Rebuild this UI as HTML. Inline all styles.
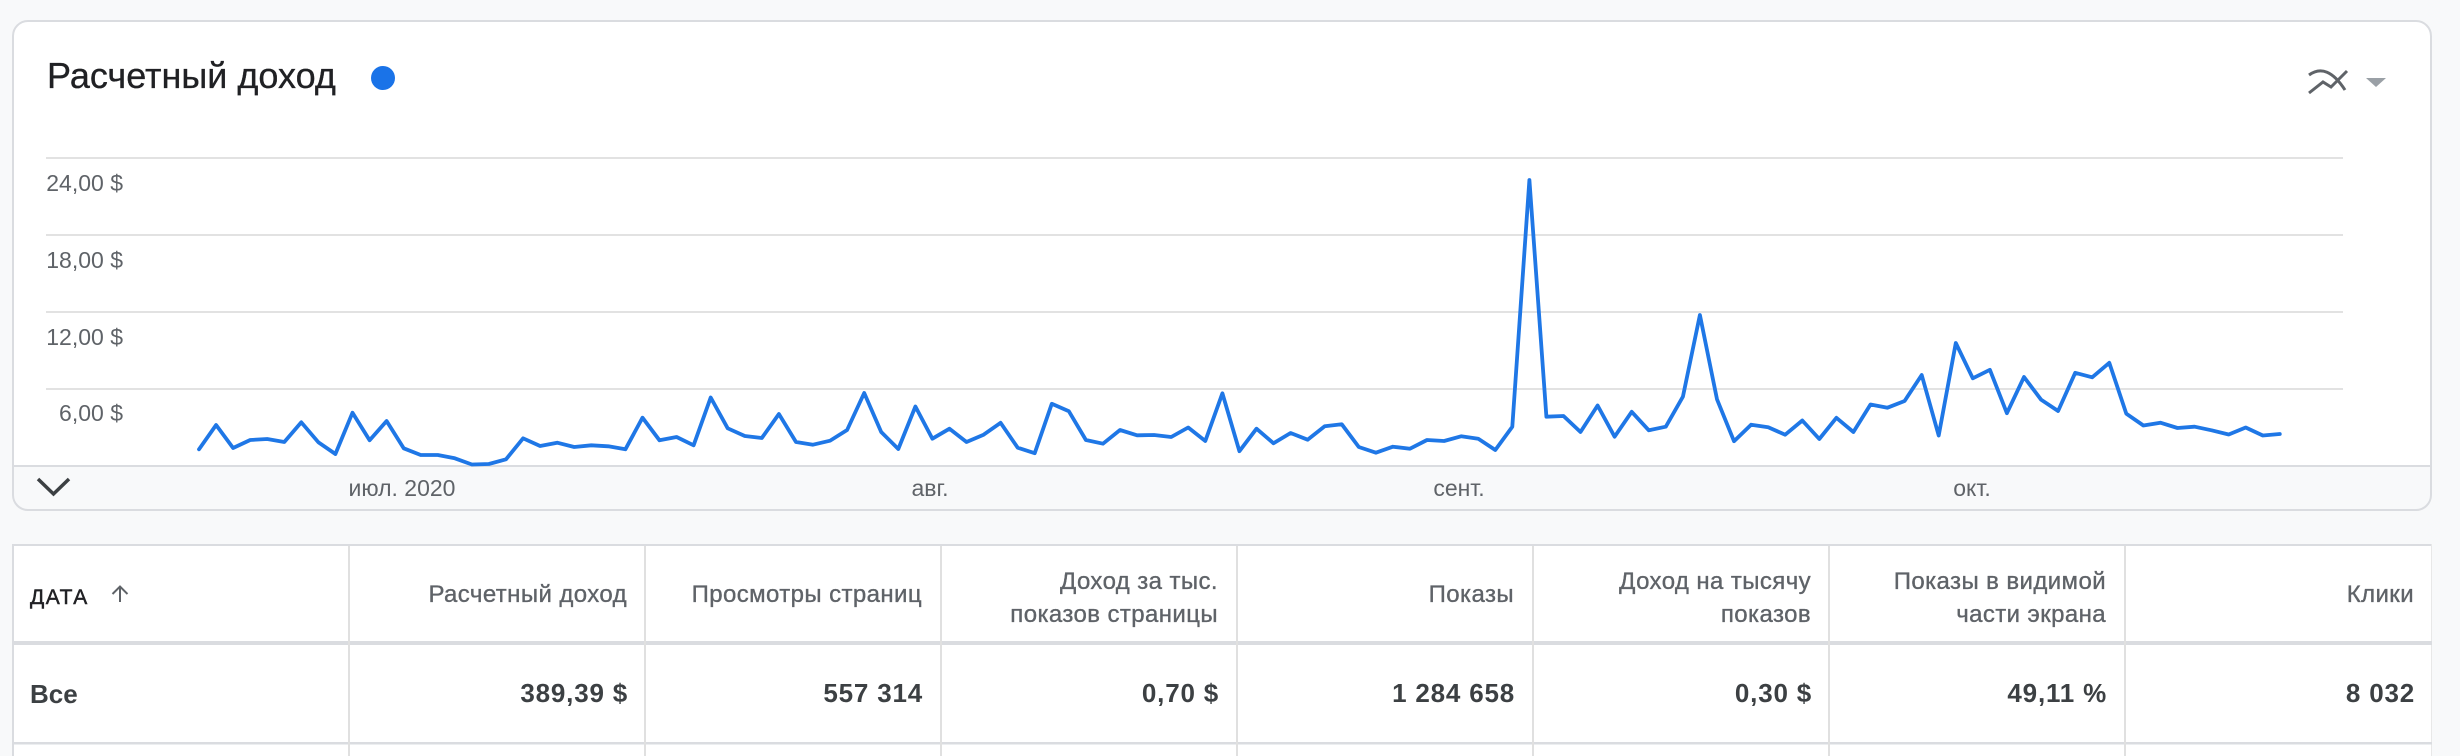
<!DOCTYPE html>
<html><head><meta charset="utf-8"><style>
html,body{margin:0;padding:0;background:#f8f9fa;}
body{width:2460px;height:756px;overflow:hidden;position:relative;font-family:"Liberation Sans","Noto Sans CJK SC",sans-serif;}
svg{position:absolute;left:0;top:0;}
</style></head><body>
<svg width="2460" height="756" viewBox="0 0 2460 756" xmlns="http://www.w3.org/2000/svg" font-family="Liberation Sans, Noto Sans CJK SC, sans-serif">
<defs><clipPath id="card"><rect x="13" y="21" width="2418" height="489" rx="15"/></clipPath></defs>
<rect x="0" y="0" width="2460" height="756" fill="#f8f9fa"/>
<!-- card -->
<g clip-path="url(#card)">
<rect x="13" y="21" width="2418" height="489" fill="#ffffff"/>
<rect x="13" y="466" width="2418" height="44" fill="#f8f9fa"/>
<rect x="13" y="465" width="2418" height="2" fill="#dadce0"/>
</g>
<rect x="13" y="21" width="2418" height="489" rx="15" fill="none" stroke="#dadce0" stroke-width="2"/>
<!-- title -->
<text x="47" y="88" font-size="36" fill="#202124" stroke="#202124" stroke-width="0.3">Расчетный доход</text>
<circle cx="383" cy="78" r="12" fill="#1a73e8"/>
<!-- top right icon -->
<g fill="none" stroke="#5f6368" stroke-width="3" stroke-linecap="butt" stroke-linejoin="miter">
<path d="M2309 75 Q2327 62 2345 90"/>
<polyline points="2309,93 2323,82 2331,87 2347,71"/>
</g>
<polygon points="2366,78 2386,78 2376,87" fill="#9aa0a6"/>
<!-- gridlines -->
<g fill="#e2e2e2">
<rect x="46" y="157" width="2297" height="2"/>
<rect x="46" y="234" width="2297" height="2"/>
<rect x="46" y="311" width="2297" height="2"/>
<rect x="46" y="388" width="2297" height="2"/>
</g>
<g font-size="23" fill="#5f6368" text-anchor="end">
<text x="123" y="191">24,00 $</text>
<text x="123" y="268">18,00 $</text>
<text x="123" y="345">12,00 $</text>
<text x="123" y="421">6,00 $</text>
</g>
<!-- series -->
<polyline fill="none" stroke="#1f77e6" stroke-width="3.8" stroke-linejoin="round" stroke-linecap="round" points="199.0,449.3 216.1,425 233.1,448 250.2,440 267.2,439 284.3,442 301.3,422.3 318.4,442.3 335.4,454 352.5,412.7 369.6,440.3 386.6,421 403.7,448.3 420.7,455 437.8,455 454.8,458.3 471.9,464.5 488.9,464 506.0,459.3 523.1,438.3 540.1,446 557.2,442.7 574.2,447 591.3,445.3 608.3,446.3 625.4,449.3 642.5,417.7 659.5,440.3 676.6,437 693.6,445.3 710.7,397.5 727.7,428.3 744.8,436 761.8,438 778.9,414 796.0,442 813.0,444.7 830.1,440.7 847.1,430 864.2,393 881.2,432 898.3,449 915.4,406.5 932.4,438.7 949.5,428.7 966.5,442 983.6,434.7 1000.6,422.8 1017.7,447.7 1034.7,453.2 1051.8,403.8 1068.9,411.3 1085.9,440 1103.0,443.7 1120.0,430 1137.1,435.3 1154.1,435 1171.2,437 1188.2,427.5 1205.3,441 1222.4,393.3 1239.4,451.2 1256.5,428.7 1273.5,443.3 1290.6,433 1307.6,439.7 1324.7,426.3 1341.8,424.3 1358.8,447 1375.9,452.7 1392.9,446.7 1410.0,448.7 1427.0,440 1444.1,441 1461.1,436.3 1478.2,438.7 1495.3,450 1512.3,426.7 1529.4,180 1546.4,416.7 1563.5,416 1580.5,432 1597.6,405.5 1614.6,436.7 1631.7,411.8 1648.8,430.3 1665.8,426.7 1682.9,396.7 1699.9,315 1717.0,399.3 1734.0,441.2 1751.1,424.7 1768.2,427.3 1785.2,434.7 1802.3,420.5 1819.3,439 1836.4,417.8 1853.4,432 1870.5,404.5 1887.5,407.7 1904.6,401 1921.7,375 1938.7,435.5 1955.8,343 1972.8,378.3 1989.9,369.8 2006.9,413.2 2024.0,377 2041.1,399.7 2058.1,411 2075.2,372.8 2092.2,377.3 2109.3,362.8 2126.3,413.7 2143.4,425.5 2160.4,422.7 2177.5,428 2194.6,426.7 2211.6,430.3 2228.7,434.5 2245.7,427.5 2262.8,435.5 2279.8,434"/>
<!-- bottom band -->
<polyline points="38,479 53.5,494 69,479" fill="none" stroke="#3c4043" stroke-width="3.5"/>
<g font-size="23" fill="#5f6368" text-anchor="middle">
<text x="402" y="496">июл. 2020</text>
<text x="930" y="496">авг.</text>
<text x="1459" y="496">сент.</text>
<text x="1972" y="496">окт.</text>
</g>
<!-- table -->
<rect x="12" y="544" width="2420" height="220" fill="#ffffff"/>
<rect x="12" y="544" width="2420" height="2" fill="#dadce0"/>
<rect x="12" y="544" width="2" height="220" fill="#dadce0"/>
<rect x="2431" y="544" width="1" height="220" fill="#e8e8e8"/>
<rect x="12" y="641" width="2420" height="4" fill="#dadce0"/>
<rect x="12" y="742" width="2420" height="2.5" fill="#dadce0"/>
<g fill="#e0e0e0">
<rect x="348" y="546" width="2" height="210"/>
<rect x="644" y="546" width="2" height="210"/>
<rect x="940" y="546" width="2" height="210"/>
<rect x="1236" y="546" width="2" height="210"/>
<rect x="1532" y="546" width="2" height="210"/>
<rect x="1828" y="546" width="2" height="210"/>
<rect x="2124" y="546" width="2" height="210"/>
</g>
<text x="30" y="604" font-size="21" letter-spacing="1.5" fill="#202124" stroke="#202124" stroke-width="0.5">ДАТА</text>
<g fill="none" stroke="#5f6368" stroke-width="2">
<line x1="120" y1="602" x2="120" y2="587"/>
<polyline points="112.5,594 120,586.5 127.5,594"/>
</g>
<g font-size="24" fill="#5f6368" stroke="#5f6368" stroke-width="0.35" text-anchor="end" letter-spacing="0.4">
<text x="627" y="602">Расчетный доход</text>
<text x="922" y="602">Просмотры страниц</text>
<text x="1218" y="589">Доход за тыс.</text>
<text x="1218" y="622">показов страницы</text>
<text x="1514" y="602">Показы</text>
<text x="1811" y="589">Доход на тысячу</text>
<text x="1811" y="622">показов</text>
<text x="2106" y="589">Показы в видимой</text>
<text x="2106" y="622">части экрана</text>
<text x="2414" y="602">Клики</text>
</g>
<text x="30" y="703" font-size="26" font-weight="bold" fill="#3c4043">Все</text>
<g font-size="26" font-weight="bold" fill="#3c4043" text-anchor="end" letter-spacing="0.8">
<text x="628" y="702">389,39 $</text>
<text x="923" y="702">557 314</text>
<text x="1219" y="702">0,70 $</text>
<text x="1515" y="702">1 284 658</text>
<text x="1812" y="702">0,30 $</text>
<text x="2107" y="702">49,11 %</text>
<text x="2415" y="702">8 032</text>
</g>
</svg>
</body></html>
